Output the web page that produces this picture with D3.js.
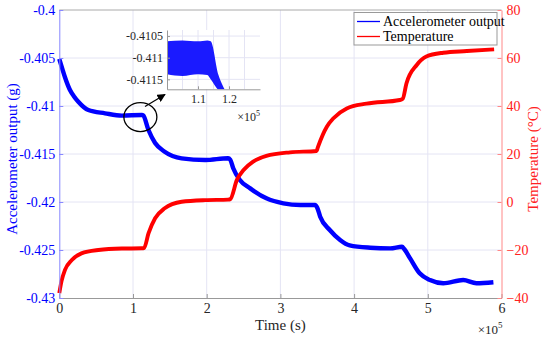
<!DOCTYPE html>
<html><head><meta charset="utf-8">
<script src="https://cdn.jsdelivr.net/npm/d3@7"></script>
<style>body{margin:0;background:#fff}svg text{font-family:'Liberation Serif','Times New Roman','DejaVu Serif',serif !important}</style>
</head><body>
<svg id="c" width="550" height="342"></svg>
<script>
// ---- data (time in units of 1e5 s) ----
const tAcc = [0,0.04,0.077,0.145,0.2,0.258,0.394,0.62,0.85,1.12,1.14,1.21,1.30,1.43,1.66,1.98,2.29,2.32,2.36,2.45,2.59,2.81,3.04,3.27,3.47,3.50,3.54,3.67,3.81,3.94,4.22,4.49,4.65,4.68,4.76,4.89,5.03,5.21,5.48,5.66,5.89];
const acc  = [-0.4051,-0.4061,-0.4070,-0.40833,-0.4090,-0.40955,-0.41042,-0.41076,-0.4110,-0.41094,-0.4110,-0.4125,-0.41385,-0.41476,-0.41545,-0.41563,-0.41545,-0.4156,-0.41649,-0.41771,-0.41858,-0.41962,-0.42014,-0.42031,-0.4203,-0.4206,-0.42153,-0.42292,-0.42396,-0.42452,-0.42476,-0.42483,-0.42466,-0.4249,-0.42587,-0.42743,-0.42813,-0.42847,-0.42813,-0.42847,-0.42836];
const tTemp = [0,0.03,0.077,0.17,0.30,0.53,0.85,1.12,1.15,1.21,1.30,1.43,1.66,1.98,2.29,2.32,2.41,2.50,2.63,2.81,3.13,3.49,3.51,3.63,3.72,3.90,4.17,4.62,4.66,4.71,4.85,4.98,5.21,5.53,5.90];
const temp  = [-38,-33,-28.3,-24.2,-21.4,-20,-19.4,-19.3,-19.2,-13.1,-6.8,-2.6,0.1,0.8,1,1.2,9.2,13.3,16.8,19.2,20.7,21.25,23,31.4,34.9,39,41,42.5,43,49.4,57.1,60.6,62.2,62.9,63.6];
// inset (zoom) envelope
const insetT  = [1.00,1.05,1.10,1.13,1.141,1.166,1.177,1.187];
const insetHi = [-0.41062,-0.41060,-0.41062,-0.41060,-0.41062,-0.41140,-0.41160,-0.41175];
const insetLo = [-0.41138,-0.41142,-0.41138,-0.41140,-0.41150,-0.41175,-0.41180,-0.41180];
// ticks
const xTicks = [0,1,2,3,4,5,6];
const yLeftTicks = [-0.43,-0.425,-0.42,-0.415,-0.41,-0.405,-0.4];
const yRightTicks = [-40,-20,0,20,40,60,80];
const insetXTicks = [1.1,1.2];
const insetYTicks = [-0.4115,-0.411,-0.4105];
const insetXGrid = [1.05,1.1,1.15,1.2,1.25];

const svg = d3.select("#c");
const L=59.3, R=501.5, T=10, B=298;
const x = d3.scaleLinear().domain([0,6]).range([L,R]);
const yL = d3.scaleLinear().domain([-0.43,-0.4]).range([B,T]);
const yR = d3.scaleLinear().domain([-40,80]).range([B,T]);
const grid = "#e4e4f4";
const serif = "'Liberation Serif','Times New Roman','DejaVu Serif',serif";

// grid
svg.append("g").selectAll("line").data(xTicks.slice(1,-1)).join("line")
  .attr("x1",d=>x(d)).attr("x2",d=>x(d)).attr("y1",T).attr("y2",B).attr("stroke",grid);
svg.append("g").selectAll("line").data(yLeftTicks.slice(1,-1)).join("line")
  .attr("x1",L).attr("x2",R).attr("y1",d=>yL(d)).attr("y2",d=>yL(d)).attr("stroke",grid);

// lines
const lineA = d3.line().x((d,i)=>x(tAcc[i])).y(d=>yL(d)).curve(d3.curveMonotoneX);
const lineT = d3.line().x((d,i)=>x(tTemp[i])).y(d=>yR(d)).curve(d3.curveMonotoneX);
svg.append("path").attr("d",lineA(acc)).attr("fill","none").attr("stroke","#0000ff").attr("stroke-width",4.4);
svg.append("path").attr("d",lineT(temp)).attr("fill","none").attr("stroke","#ff0000").attr("stroke-width",3.9);

function styleText(sel,size,fill){ sel.attr("font-size",size).attr("fill",fill).style("font-family",serif); }

// axes
const axB = d3.axisBottom(x).tickValues(xTicks).tickSizeInner(-4).tickSizeOuter(0).tickPadding(5).tickFormat(d3.format("d"));
const gB = svg.append("g").attr("transform",`translate(0,${B})`).call(axB);
gB.select(".domain").attr("stroke","#999");
gB.selectAll(".tick line").attr("stroke","#999");
styleText(gB.selectAll("text"),14,"#262626");
svg.append("line").attr("x1",L).attr("x2",R).attr("y1",T).attr("y2",T).attr("stroke","#aaa");

const axL = d3.axisLeft(yL).tickValues(yLeftTicks).tickSizeInner(-4).tickSizeOuter(0).tickPadding(4).tickFormat(d=>String(+d.toFixed(3)));
const gL = svg.append("g").attr("transform",`translate(${L},0)`).call(axL);
gL.select(".domain").attr("stroke","#8888ff");
gL.selectAll(".tick line").attr("stroke","#8888ff");
styleText(gL.selectAll("text"),14,"#0000ff");

const axR = d3.axisRight(yR).tickValues(yRightTicks).tickSizeInner(-4).tickSizeOuter(0).tickPadding(5).tickFormat(d3.format("d"));
const gR = svg.append("g").attr("transform",`translate(${R},0)`).call(axR);
gR.select(".domain").attr("stroke","#ff8888");
gR.selectAll(".tick line").attr("stroke","#ff8888");
styleText(gR.selectAll("text"),14,"#ff2020");

// titles
styleText(svg.append("text").attr("x",(L+R)/2).attr("y",330).attr("text-anchor","middle").text("Time (s)"),15,"#262626");
const ex = svg.append("text").attr("x",R+1).attr("y",334).attr("text-anchor","end");
styleText(ex,13,"#262626");
ex.append("tspan").text("\u00d710");
ex.append("tspan").attr("dy",-6).attr("font-size",9).text("5");
styleText(svg.append("text").attr("transform",`translate(17,159) rotate(-90)`).attr("text-anchor","middle").text("Accelerometer output (g)"),15,"#0000ff");
styleText(svg.append("text").attr("transform",`translate(538,159) rotate(-90)`).attr("text-anchor","middle").text("Temperature (\u00b0C)"),15,"#ff2020");

// legend
const lg = svg.append("g");
lg.append("rect").attr("x",354).attr("y",12.5).attr("width",143).attr("height",32.5).attr("fill","#fff").attr("stroke","#999");
[["Accelerometer output","#0000ff",21.5],["Temperature","#ff0000",36.5]].forEach(([t,c,yy])=>{
  lg.append("line").attr("x1",357).attr("x2",380).attr("y1",yy).attr("y2",yy).attr("stroke",c).attr("stroke-width",1.3);
  styleText(lg.append("text").attr("x",383).attr("y",yy+4.5).text(t),14,"#000");
});

// annotation ellipse + arrow
svg.append("ellipse").attr("cx",x(1.1)).attr("cy",yL(-0.4110)+1.5).attr("rx",16.5).attr("ry",14.5).attr("fill","none").attr("stroke","#000").attr("stroke-width",1.3);
svg.append("defs").append("marker").attr("id","ah").attr("viewBox","0 0 10 10").attr("refX",9).attr("refY",5)
  .attr("markerWidth",7).attr("markerHeight",7).attr("orient","auto")
  .append("path").attr("d","M0,0 L10,5 L0,10 z").attr("fill","#000");
svg.append("line").attr("x1",145).attr("y1",106.5).attr("x2",165).attr("y2",94.5).attr("stroke","#000").attr("stroke-width",1.2).attr("marker-end","url(#ah)");

// inset
const iL=167, iR=260, iT=30, iB=89.3;
const xi = d3.scaleLinear().domain([1.0,1.3]).range([iL,iR]);
const yi = d3.scaleLinear().domain([-0.41173,-0.41036]).range([iB,iT]);
const ig = svg.append("g");
ig.append("rect").attr("x",iL).attr("y",iT).attr("width",iR-iL).attr("height",iB-iT).attr("fill","#fff");
ig.selectAll(".gx").data(insetXGrid).join("line").attr("x1",d=>xi(d)).attr("x2",d=>xi(d)).attr("y1",iT).attr("y2",iB).attr("stroke",grid);
ig.selectAll(".gy").data(insetYTicks).join("line").attr("x1",iL).attr("x2",iR).attr("y1",d=>yi(d)).attr("y2",d=>yi(d)).attr("stroke",grid);
svg.append("clipPath").attr("id","ic").append("rect").attr("x",iL).attr("y",iT).attr("width",iR-iL).attr("height",iB-iT);
const area = d3.area().x((d,i)=>xi(insetT[i])).y0((d,i)=>yi(insetLo[i])).y1(d=>yi(d)).curve(d3.curveMonotoneX);
ig.append("path").attr("d",area(insetHi)).attr("fill","#1a1aff").attr("clip-path","url(#ic)");
const axIB = d3.axisBottom(xi).tickValues(insetXTicks).tickSizeInner(-3).tickSizeOuter(0).tickPadding(5).tickFormat(d3.format(".1f"));
const gIB = ig.append("g").attr("transform",`translate(0,${iB})`).call(axIB);
gIB.select(".domain").attr("stroke","#999");
gIB.selectAll(".tick line").attr("stroke","#999");
styleText(gIB.selectAll("text"),12,"#262626");
const axIL = d3.axisLeft(yi).tickValues(insetYTicks).tickSizeInner(-3).tickSizeOuter(0).tickPadding(4).tickFormat(d=>String(+d.toFixed(4)));
const gIL = ig.append("g").attr("transform",`translate(${iL},0)`).call(axIL);
gIL.select(".domain").attr("stroke","#999");
gIL.selectAll(".tick line").attr("stroke","#999");
styleText(gIL.selectAll("text"),12,"#262626");
const ex2 = ig.append("text").attr("x",iR).attr("y",121).attr("text-anchor","end");
styleText(ex2,12,"#262626");
ex2.append("tspan").text("\u00d710");
ex2.append("tspan").attr("dy",-5).attr("font-size",8).text("5");
</script>
</body></html>
